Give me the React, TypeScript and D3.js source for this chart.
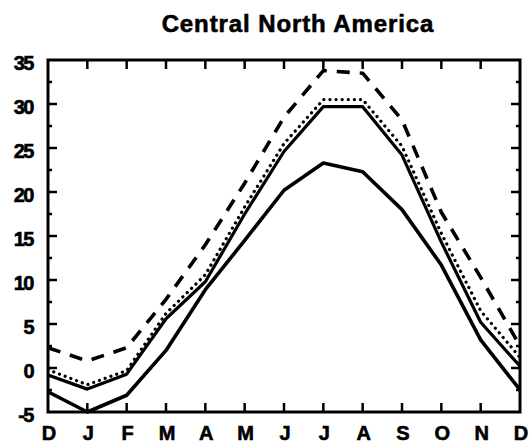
import React from "react";
import * as d3 from "d3";

const months = ["D", "J", "F", "M", "A", "M", "J", "J", "A", "S", "O", "N", "D"];
const lowerSolid = [-2.7, -5, -3.1, 2, 8.9, 14.5, 20.2, 23.3, 22.3, 18, 11.7, 3.2, -2.5];
const upperSolid = [-0.8, -2.4, -0.7, 5.6, 9.8, 17.5, 24.6, 29.7, 29.7, 24.2, 14.3, 5.2, 0.2];
const dotted = [-0.2, -1.9, -0.3, 6.2, 10.6, 18.3, 25.5, 30.5, 30.5, 25.2, 15.3, 6.5, 1.2];
const dashed = [2.3, 0.8, 2.3, 7.8, 14, 21, 28.5, 33.8, 33.5, 28.2, 17.7, 10.3, 2.5];
const yTicks = [-5, 0, 5, 10, 15, 20, 25, 30, 35];
const yMinor = [-2.5, 2.5, 7.5, 12.5, 17.5, 22.5, 27.5, 32.5];

const W = 530, H = 443;
const L = 48, R = 520, T = 60, B = 412;

export default function App() {
  const x = d3.scaleLinear().domain([0, 12]).range([L, R]);
  const y = d3.scaleLinear().domain([-5, 35]).range([B, T]);
  const line = d3.line<number>().x((_, i) => x(i)).y((d) => y(d));
  const font = "'Liberation Sans', Arial, sans-serif";
  return (
    <svg width={W} height={H} style={{ position: "absolute", left: 0, top: 0 }}>
      <rect width={W} height={H} fill="#fff" />
      <text x={298} y={32} textAnchor="middle" fontFamily={font} fontWeight="bold" fontSize={24} letterSpacing={0.9} fill="#000" stroke="#000" strokeWidth={0.6}>
        Central North America
      </text>
      <defs>
        <clipPath id="c">
          <rect x={L} y={T - 2} width={R - L} height={B - T + 4} />
        </clipPath>
      </defs>
      <g clipPath="url(#c)" fill="none" stroke="#000" strokeLinejoin="round">
        <path d={line(lowerSolid) || ""} strokeWidth={3.6} />
        <path d={line(upperSolid) || ""} strokeWidth={3.2} />
        <path d={line(dotted) || ""} strokeWidth={3.2} strokeDasharray="0.1 6" strokeLinecap="round" />
        <path d={line(dashed) || ""} strokeWidth={3.6} strokeDasharray="13 10" />
      </g>
      <rect x={L} y={T} width={R - L} height={B - T} fill="none" stroke="#000" strokeWidth={3} />
      <g stroke="#000" strokeWidth={2.5}>
        {months.map((_, i) =>
          i > 0 && i < 12 ? (
            <g key={"xt" + i}>
              <line x1={x(i)} x2={x(i)} y1={B} y2={B - 9} />
              <line x1={x(i)} x2={x(i)} y1={T} y2={T + 9} />
            </g>
          ) : null
        )}
        {yTicks.slice(1, -1).map((v) => (
          <g key={"yt" + v}>
            <line x1={L} x2={L + 9} y1={y(v)} y2={y(v)} />
            <line x1={R} x2={R - 9} y1={y(v)} y2={y(v)} />
          </g>
        ))}
        {yMinor.map((v) => (
          <g key={"ym" + v}>
            <line x1={L} x2={L + 4} y1={y(v)} y2={y(v)} />
            <line x1={R} x2={R - 4} y1={y(v)} y2={y(v)} />
          </g>
        ))}
      </g>
      <g fontFamily={font} fontWeight="bold" fill="#000" stroke="#000" strokeWidth={0.6}>
        {yTicks.map((v) => (
          <text key={"yl" + v} x={33} y={y(v) + 10} textAnchor="end" fontSize={20} letterSpacing={-1.5}>
            {v}
          </text>
        ))}
        {months.map((m, i) => (
          <text key={"xl" + i} x={x(i) + 1} y={440} textAnchor="middle" fontSize={20}>
            {m}
          </text>
        ))}
      </g>
    </svg>
  );
}
